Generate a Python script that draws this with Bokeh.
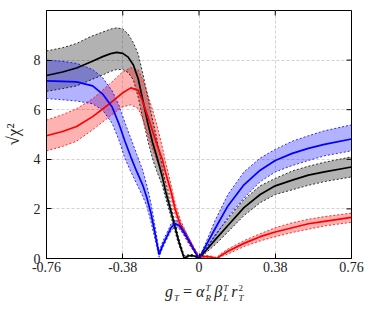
from bokeh.plotting import figure
from bokeh.models import Range1d, FixedTicker, Div
from bokeh.layouts import column
from bokeh.embed import file_html
from bokeh.resources import INLINE

# ---------------- data ----------------
x_ticks = [-0.76, -0.38, 0.0, 0.38, 0.76]
x_tick_labels = ["-0.76", "-0.38", "0", "0.38", "0.76"]
y_ticks = [0, 2, 4, 6, 8]
y_tick_labels = ["0", "2", "4", "6", "8"]
x_min, x_max = -0.76, 0.76
y_min, y_max = 0, 10

g_black = [-0.76, -0.68, -0.61, -0.54, -0.48, -0.44, -0.41, -0.38, -0.353, -0.327,
           -0.303, -0.279, -0.255, -0.231, -0.212, -0.183, -0.167, -0.143, -0.103, -0.074,
           -0.055, -0.035, -0.015, 0.0, 0.03, 0.08, 0.144, 0.224, 0.305, 0.38,
           0.465, 0.545, 0.625, 0.76]
black_mid = [7.38, 7.52, 7.68, 7.92, 8.14, 8.26, 8.31, 8.27, 8.12, 7.8,
             7.25, 6.35, 5.45, 4.67, 4.15, 3.3, 2.72, 2.0, 0.75, 0.0,
             0.1, 0.12, 0.08, 0.0, 0.28, 0.75, 1.33, 2.05, 2.58, 2.93,
             3.16, 3.36, 3.49, 3.69]
black_hi = [8.37, 8.5, 8.67, 8.95, 9.13, 9.25, 9.3, 9.26, 9.05, 8.7,
            8.25, 7.42, 6.5, 5.58, 4.9, 3.7, 3.05, 2.25, 0.9, 0.12,
            0.15, 0.16, 0.1, 0.02, 0.35, 0.95, 1.6, 2.38, 2.93, 3.23,
            3.53, 3.72, 3.88, 4.1]
black_lo = [6.74, 6.85, 6.96, 7.2, 7.4, 7.55, 7.62, 7.62, 7.5, 7.2,
            6.5, 5.6, 4.75, 4.0, 3.55, 2.95, 2.45, 1.78, 0.6, 0.0,
            0.06, 0.08, 0.05, 0.0, 0.2, 0.55, 1.07, 1.73, 2.25, 2.58,
            2.77, 2.95, 3.1, 3.29]

g_blue = [-0.76, -0.68, -0.61, -0.53, -0.48, -0.433, -0.40, -0.37, -0.34, -0.31,
          -0.28, -0.26, -0.24, -0.22, -0.199, -0.18, -0.159, -0.139, -0.119, -0.095,
          -0.07, -0.05, -0.03, -0.015, 0.0, 0.04, 0.08, 0.144, 0.224, 0.305,
          0.38, 0.465, 0.545, 0.625, 0.76]
blue_mid = [7.16, 7.14, 7.12, 6.96, 6.63, 6.11, 5.45, 4.75, 4.1, 3.5,
            2.95, 2.45, 1.85, 1.05, 0.16, 0.55, 0.9, 1.25, 1.41, 1.3,
            1.0, 0.72, 0.42, 0.2, 0.0, 0.6, 1.2, 2.12, 2.97, 3.56,
            3.95, 4.24, 4.44, 4.6, 4.82]
blue_hi = [8.0, 7.95, 7.87, 7.62, 7.29, 6.76, 6.2, 5.5, 4.85, 4.2,
           3.55, 2.95, 2.25, 1.35, 0.3, 0.7, 1.05, 1.4, 1.54, 1.45,
           1.12, 0.82, 0.5, 0.26, 0.02, 0.75, 1.53, 2.58, 3.49, 4.05,
           4.4, 4.73, 4.95, 5.15, 5.39]
blue_lo = [6.45, 6.4, 6.35, 6.24, 5.98, 5.45, 4.8, 4.05, 3.5, 3.0,
           2.5, 2.1, 1.5, 0.8, 0.05, 0.45, 0.8, 1.12, 1.28, 1.18,
           0.9, 0.62, 0.35, 0.15, 0.0, 0.45, 0.88, 1.66, 2.44, 3.1,
           3.49, 3.75, 3.95, 4.14, 4.34]

g_red = [-0.76, -0.68, -0.61, -0.53, -0.446, -0.385, -0.34, -0.303, -0.279, -0.255,
         -0.231, -0.207, -0.183, -0.168, -0.14, -0.119, -0.095, -0.054, -0.014, 0.0,
         0.03, 0.06, 0.088, 0.11, 0.144, 0.224, 0.305, 0.38, 0.465, 0.545,
         0.625, 0.76]
red_mid = [4.95, 5.12, 5.32, 5.72, 6.24, 6.65, 6.88, 6.78, 6.3, 5.72,
           5.13, 4.54, 4.0, 3.5, 2.72, 2.0, 1.41, 0.75, 0.22, 0.06,
           0.08, 0.06, 0.0, 0.12, 0.29, 0.61, 0.88, 1.07, 1.24, 1.4,
           1.5, 1.66]
red_hi = [5.58, 5.8, 6.04, 6.44, 7.03, 7.49, 7.7, 7.6, 7.2, 6.6,
          5.98, 5.3, 4.5, 3.95, 3.0, 2.25, 1.6, 0.88, 0.3, 0.12,
          0.13, 0.1, 0.04, 0.2, 0.38, 0.72, 1.0, 1.24, 1.44, 1.58,
          1.69, 1.83]
red_lo = [4.34, 4.52, 4.73, 5.19, 5.72, 6.1, 6.2, 6.05, 5.6, 5.0,
          4.4, 3.9, 3.45, 3.1, 2.45, 1.78, 1.22, 0.62, 0.14, 0.0,
          0.03, 0.02, 0.0, 0.08, 0.18, 0.48, 0.71, 0.88, 1.05, 1.18,
          1.31, 1.46]

SERIF = "Liberation Serif"
W = 365
BL, BR, BT, BB = 46, 14, 10, 20
H = 278
FRAME_W, FRAME_H = W - BL - BR, H - BT - BB

p = figure(width=W, height=H, x_range=Range1d(x_min, x_max), y_range=Range1d(y_min, y_max),
           output_backend="svg", toolbar_location=None,
           min_border_left=BL, min_border_right=BR, min_border_top=BT, min_border_bottom=BB)
p.background_fill_color = "white"
p.border_fill_color = "white"
p.outline_line_color = "black"
p.outline_line_width = 1

# grid
p.xgrid.ticker = FixedTicker(ticks=x_ticks)
p.ygrid.ticker = FixedTicker(ticks=y_ticks)
for gr in (p.xgrid, p.ygrid):
    gr.grid_line_color = "#d2d2d2"
    gr.grid_line_dash = "3 2"
    gr.grid_line_width = 1

# bands and curves
series = [
    (g_black, black_mid, black_lo, black_hi, "#000000"),
    (g_red, red_mid, red_lo, red_hi, "#ff0000"),
    (g_blue, blue_mid, blue_lo, blue_hi, "#0000ff"),
]
for g, mid, lo, hi, c in series:
    p.varea(x=g, y1=lo, y2=hi, fill_color=c, fill_alpha=0.3)
for g, mid, lo, hi, c in series:
    p.line(g, lo, line_color=c, line_width=0.8, line_dash="2 2")
    p.line(g, hi, line_color=c, line_width=0.8, line_dash="2 2")
for g, mid, lo, hi, c in series:
    p.line(g, mid, line_color=c, line_width=1.7)

# mirrored ticks on top and right edges (inward)
tick_len_y = 5 * (y_max - y_min) / FRAME_H
tick_len_x = 5 * (x_max - x_min) / FRAME_W
p.segment(x0=x_ticks, y0=[y_max] * len(x_ticks), x1=x_ticks,
          y1=[y_max - tick_len_y] * len(x_ticks), line_color="black", line_width=1)
p.segment(x0=[x_max] * len(y_ticks), y0=y_ticks, x1=[x_max - tick_len_x] * len(y_ticks),
          y1=y_ticks, line_color="black", line_width=1)

# axes
def style(ax, ticks, labels):
    ax.ticker = FixedTicker(ticks=ticks)
    ax.major_label_overrides = {t: l for t, l in zip(ticks, labels)}
    ax.major_tick_in = 5
    ax.major_tick_out = 0
    ax.minor_tick_in = 0
    ax.minor_tick_out = 0
    ax.axis_line_color = "black"
    ax.major_tick_line_color = "black"
    ax.major_label_text_font = SERIF
    ax.major_label_text_font_size = "14px"
    ax.major_label_text_color = "#222222"

style(p.xaxis[0], x_ticks, x_tick_labels)
p.xaxis[0].major_label_standoff = 3
p.xaxis[0].axis_label_standoff = 0
style(p.yaxis[0], y_ticks, y_tick_labels)
p.yaxis[0].major_label_standoff = 6
p.yaxis[0].axis_label = "√χ²"
p.yaxis[0].axis_label_text_font = SERIF
p.yaxis[0].axis_label_text_font_style = "normal"
p.yaxis[0].axis_label_text_font_size = "17px"
p.yaxis[0].axis_label_standoff = 8
p.yaxis[0].axis_label_text_color = "#222222"

# x-axis title as real HTML text: g_T = α_R^T β_L^T r_T^2
def stack(sup, sub):
    return ('<span style="display:inline-block;vertical-align:-4px;font-size:9px;'
            'line-height:10px;text-align:left;margin-left:1px">'
            f'<span style="display:block">{sup}</span>'
            f'<span style="display:block">{sub}</span></span>')

xlabel_html = (
    '<div style="font-family:\'Liberation Serif\',\'DejaVu Serif\',serif;font-size:16px;'
    'font-style:italic;color:#222;white-space:nowrap;padding-left:160px;line-height:16px">'
    'g<span style="font-size:9px;vertical-align:-4px;margin-left:1px">T</span>'
    '<span style="font-style:normal">&nbsp;=&nbsp;</span>'
    'α' + stack('T', 'R') + '&thinsp;β' + stack('T', 'L') + '&thinsp;r'
    + stack('<span style="font-style:normal">2</span>', 'T') +
    '</div>'
)
xlabel = Div(text=xlabel_html, width=W, height=296 - H)

layout = column(p, xlabel, spacing=0)
open("out.html", "w").write(file_html(layout, INLINE))
